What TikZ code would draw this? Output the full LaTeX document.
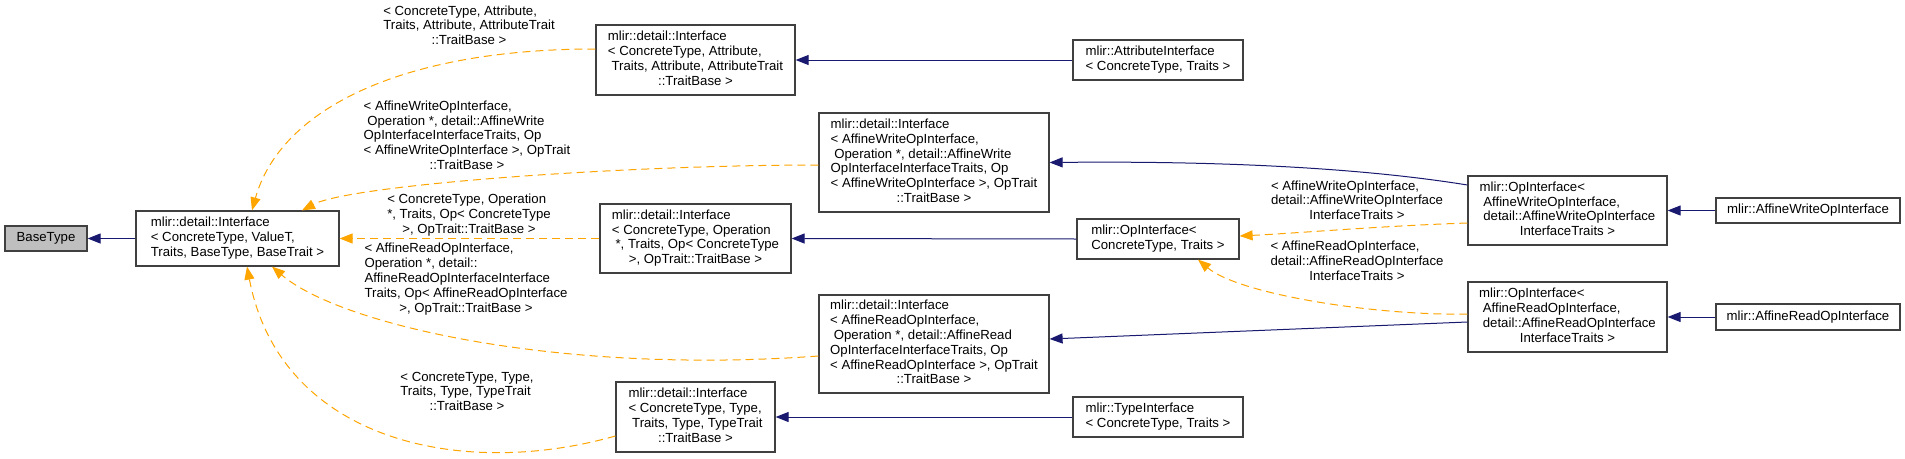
\documentclass[tikz,border=0pt]{standalone}
\usepackage{fontspec}
\setmainfont{Liberation Sans}
\usetikzlibrary{arrows.meta}
\definecolor{edgeblue}{HTML}{191970}
\definecolor{edgeorange}{HTML}{FFA500}
\definecolor{boxline}{HTML}{404040}
\definecolor{basefill}{HTML}{BFBFBF}
\newcommand{\tb}[1]{\begin{tabular}{@{}l@{}}#1\end{tabular}}
\newcommand{\lc}[1]{\multicolumn{1}{@{}c@{}}{#1}}
\begin{document}
\begin{tikzpicture}[x=1pt,y=-1pt,
  every node/.style={font=\fontsize{13.2}{14.8}\selectfont},
  box/.style={draw=boxline, line width=1.2pt, fill=white, inner sep=0pt, align=center},
  inh/.style={draw=edgeblue, line width=1pt, -{Triangle[length=13pt,width=10pt]}},
  tmpl/.style={draw=edgeorange, line width=1pt, dash pattern=on 8pt off 5pt, -{Triangle[length=13pt,width=10pt]}},
  elabel/.style={inner sep=0pt}]
\useasboundingbox (0,0) rectangle (1905,458);

% nodes
\node[box, fill=basefill, minimum width=82pt, minimum height=25pt] (base) at (46,238.5) {BaseType};
\node[box, minimum width=203pt, minimum height=55pt] (iface) at (237.5,238.5)
  {\tb{mlir::detail::Interface\\ < ConcreteType, ValueT,\\ \lc{Traits, BaseType, BaseTrait >}}};
\node[box, minimum width=199pt, minimum height=70pt] (attrd) at (695.5,60)
  {\tb{mlir::detail::Interface\\ < ConcreteType, Attribute,\\ \ Traits, Attribute, AttributeTrait\\ \lc{::TraitBase >}}};
\node[box, minimum width=170pt, minimum height=40pt] (attri) at (1158,60)
  {\tb{mlir::AttributeInterface\\ \lc{< ConcreteType, Traits >}}};
\node[box, minimum width=230pt, minimum height=99pt] (writed) at (934,162.5)
  {\tb{mlir::detail::Interface\\ < AffineWriteOpInterface,\\ \ Operation *, detail::AffineWrite\\ OpInterfaceInterfaceTraits, Op\\ < AffineWriteOpInterface >, OpTrait\\ \lc{::TraitBase >}}};
\node[box, minimum width=191pt, minimum height=69pt] (opd) at (695.5,238.5)
  {\tb{mlir::detail::Interface\\ < ConcreteType, Operation\\ \ {*}, Traits, Op< ConcreteType\\ \lc{>, OpTrait::TraitBase >}}};
\node[box, minimum width=162pt, minimum height=40pt] (opi) at (1158,239)
  {\tb{mlir::OpInterface<\\ \lc{ConcreteType, Traits >}}};
\node[box, minimum width=230pt, minimum height=98pt] (readd) at (934,344)
  {\tb{mlir::detail::Interface\\ < AffineReadOpInterface,\\ \ Operation *, detail::AffineRead\\ OpInterfaceInterfaceTraits, Op\\ < AffineReadOpInterface >, OpTrait\\ \lc{::TraitBase >}}};
\node[box, minimum width=159pt, minimum height=70pt] (typed) at (695.5,417)
  {\tb{mlir::detail::Interface\\ < ConcreteType, Type,\\ \ Traits, Type, TypeTrait\\ \lc{::TraitBase >}}};
\node[box, minimum width=170pt, minimum height=40pt] (typei) at (1158,417)
  {\tb{mlir::TypeInterface\\ \lc{< ConcreteType, Traits >}}};
\node[box, minimum width=199pt, minimum height=69pt] (opiw) at (1567.5,210.5)
  {\tb{mlir::OpInterface<\\ \ AffineWriteOpInterface,\\ \ detail::AffineWriteOpInterface\\ \lc{InterfaceTraits >}}};
\node[box, minimum width=199pt, minimum height=70pt] (opir) at (1567.5,317)
  {\tb{mlir::OpInterface<\\ \ AffineReadOpInterface,\\ \ detail::AffineReadOpInterface\\ \lc{InterfaceTraits >}}};
\node[box, minimum width=184pt, minimum height=25pt] (awi) at (1808,210.5) {mlir::AffineWriteOpInterface};
\node[box, minimum width=184pt, minimum height=26pt] (ari) at (1808,317) {mlir::AffineReadOpInterface};

% edge labels
\node[elabel] (l1) at (469,27) {\tb{< ConcreteType, Attribute,\\ Traits, Attribute, AttributeTrait\\ \lc{::TraitBase >}}};
\node[elabel] (l2) at (467,137) {\tb{< AffineWriteOpInterface,\\ \ Operation *, detail::AffineWrite\\ OpInterfaceInterfaceTraits, Op\\ < AffineWriteOpInterface >, OpTrait\\ \lc{::TraitBase >}}};
\node[elabel] (l3) at (469,215.5) {\tb{< ConcreteType, Operation\\ {*}, Traits, Op< ConcreteType\\ \lc{>, OpTrait::TraitBase >}}};
\node[elabel] (l4) at (466,279.5) {\tb{< AffineReadOpInterface,\\ Operation *, detail::\\ AffineReadOpInterfaceInterface\\ Traits, Op< AffineReadOpInterface\\ \lc{>, OpTrait::TraitBase >}}};
\node[elabel] (l5) at (467,393) {\tb{< ConcreteType, Type,\\ Traits, Type, TypeTrait\\ \lc{::TraitBase >}}};
\node[elabel] (l6) at (1357,202) {\tb{< AffineWriteOpInterface,\\ detail::AffineWriteOpInterface\\ \lc{InterfaceTraits >}}};
\node[elabel] (l7) at (1357,262.5) {\tb{< AffineReadOpInterface,\\ detail::AffineReadOpInterface\\ \lc{InterfaceTraits >}}};

% inheritance edges (blue)
\draw[inh] (iface.west) -- (base.east);
\draw[inh] (attri.west) -- (attrd.east);
\draw[inh] ([yshift=25.5pt]opiw.west) .. controls (1350,166) and (1200,161) .. (writed.east);
\draw[inh] (opi.west) -- (opd.east);
\draw[inh] ([yshift=-5pt]opir.west) -- ([yshift=5pt]readd.east);
\draw[inh] (typei.west) -- (typed.east);
\draw[inh] (awi.west) -- (opiw.east);
\draw[inh] (ari.west) -- (opir.east);

% template instance edges (orange dashed)
\draw[tmpl] ([yshift=11pt]attrd.west) .. controls (400,49) and (280,110) .. ([xshift=14.5pt]iface.north);
\draw[tmpl] ([yshift=-2.5pt]writed.west) .. controls (620,165) and (350,185) .. ([xshift=64.5pt]iface.north);
\draw[tmpl] (opd.west) -- (iface.east);
\draw[tmpl] ([yshift=-12pt]readd.west) .. controls (560,375) and (340,325) .. ([xshift=34.5pt]iface.south);
\draw[tmpl] ([yshift=-19pt]typed.west) .. controls (460,480) and (280,440) .. ([xshift=9.5pt]iface.south);
\draw[tmpl] ([yshift=-12.5pt]opiw.west) .. controls (1380,226) and (1300,233) .. ([yshift=3pt]opi.east);
\draw[tmpl] ([yshift=3pt]opir.west) .. controls (1380,316) and (1240,295) .. ([xshift=40pt]opi.south);
\end{tikzpicture}
\end{document}
